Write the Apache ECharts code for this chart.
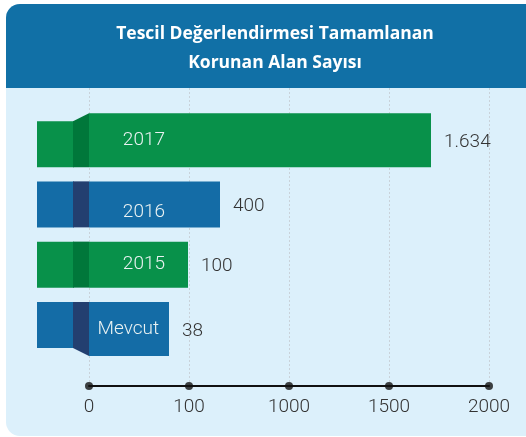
<!DOCTYPE html>
<html>
<head>
<meta charset="utf-8">
<script src="https://cdn.jsdelivr.net/npm/echarts@6/dist/echarts.min.js"></script>
<style>
  html, body { margin: 0; padding: 0; background: #fff; }
  #card {
    position: absolute; left: 6px; top: 4px; width: 540px; height: 432px;
    border-radius: 14px; overflow: hidden; background: #dcf0fb;
  }
  #card .head { height: 84px; background: #1170a6; }
  #main { position: absolute; left: 0; top: 0; width: 526px; height: 437px; }
</style>
</head>
<body>
<div id="card"><div class="head"></div></div>
<div id="main"></div>
<script>
// categories top to bottom
const categories = ["2017", "2016", "2015", "Mevcut"];
// numbers printed beside the bars
const shownValues = [1634, 400, 100, 38];
// where each bar ends on the (uneven) axis
const barEnds = [1710, 655, 495, 400];
// axis ticks and the labels printed under them
const tickValues = [0, 500, 1000, 1500, 2000];
const tickLabels = ["0", "100", "1000", "1500", "2000"];

const GREEN = "#08914a", GREEN_DARK = "#00773a";
const BLUE = "#146ca6", BLUE_DARK = "#233f70";
// ribbon fold: main part moved up (-) or down (+) from the tail
const foldShift = [-8, 0, 0, 8];
// small nudge of the inner label (the 2016 one sits low in the original)
const labelNudge = [0, 8, 0, 0];

const fmt = (n) => String(n).replace(/\B(?=(\d{3})+(?!\d))/g, ".");

const chart = echarts.init(document.getElementById("main"));

function renderItem(params, api) {
  const i = params.dataIndex;
  const p0 = api.coord([0, i]);
  const p1 = api.coord([api.value(0), i]);
  const h = 46;
  const x0 = p0[0];
  const yTop = p0[1] - h / 2;
  const s = foldShift[i];
  const top = yTop + Math.min(s, 0);
  const bot = yTop + h + Math.max(s, 0);
  const even = i % 2 === 0;
  const main = even ? GREEN : BLUE;
  const dark = even ? GREEN_DARK : BLUE_DARK;
  const midY = (top + bot) / 2;
  return {
    type: "group",
    children: [
      { type: "rect", shape: { x: x0 - 52, y: yTop, width: 37, height: h }, style: { fill: main } },
      { type: "polygon", shape: { points: [[x0 - 16, yTop], [x0, top], [x0, bot], [x0 - 16, yTop + h]] }, style: { fill: dark } },
      { type: "rect", shape: { x: x0, y: top, width: p1[0] - x0, height: bot - top }, style: { fill: main } },
      {
        type: "text", x: Math.min(x0 + 76, p1[0] - 10), y: midY + labelNudge[i],
        style: { text: categories[i], fill: "#eaf2f2", font: "300 19px Roboto", align: "right", verticalAlign: "middle" }
      },
      {
        type: "text", x: p1[0] + 13, y: midY + 2,
        style: { text: fmt(shownValues[i]), fill: "#333", font: "300 19px Roboto", align: "left", verticalAlign: "middle" }
      }
    ]
  };
}

chart.setOption({
  animation: false,
  title: {
    text: "Tescil Değerlendirmesi Tamamlanan\nKorunan Alan Sayısı",
    left: 270, top: 15, textAlign: "center",
    textStyle: { color: "#fff", fontFamily: "Open Sans", fontWeight: 700, fontSize: 17.5, lineHeight: 29 }
  },
  grid: [
    { left: 89, right: 37, top: 114, bottom: 82 },
    { left: 89, right: 37, top: 88, bottom: 51 }
  ],
  xAxis: [
    { gridIndex: 0, type: "value", min: 0, max: 2000, show: false },
    {
      gridIndex: 1, type: "value", min: 0, max: 2000, interval: 500,
      axisLine: { show: true, lineStyle: { color: "#111", width: 2 } },
      axisTick: { show: false },
      splitLine: { show: true, lineStyle: { color: "#c9d2da", type: [2, 2], width: 1 } },
      axisLabel: {
        margin: 12, color: "#333", fontFamily: "Roboto", fontWeight: 300, fontSize: 19,
        formatter: (v) => tickLabels[tickValues.indexOf(v)]
      }
    }
  ],
  yAxis: [
    { gridIndex: 0, type: "category", data: categories, inverse: true, show: false },
    { gridIndex: 1, type: "value", min: 0, max: 1, show: false }
  ],
  series: [
    {
      type: "custom", xAxisIndex: 0, yAxisIndex: 0, z: 3,
      renderItem: renderItem,
      encode: { x: 0, y: 1 },
      data: barEnds.map((v, i) => [v, i])
    },
    {
      type: "scatter", xAxisIndex: 1, yAxisIndex: 1, z: 5, clip: false,
      symbolSize: 8, itemStyle: { color: "#111" },
      data: tickValues.map((v) => [v, 0])
    }
  ]
});
</script>
</body>
</html>
